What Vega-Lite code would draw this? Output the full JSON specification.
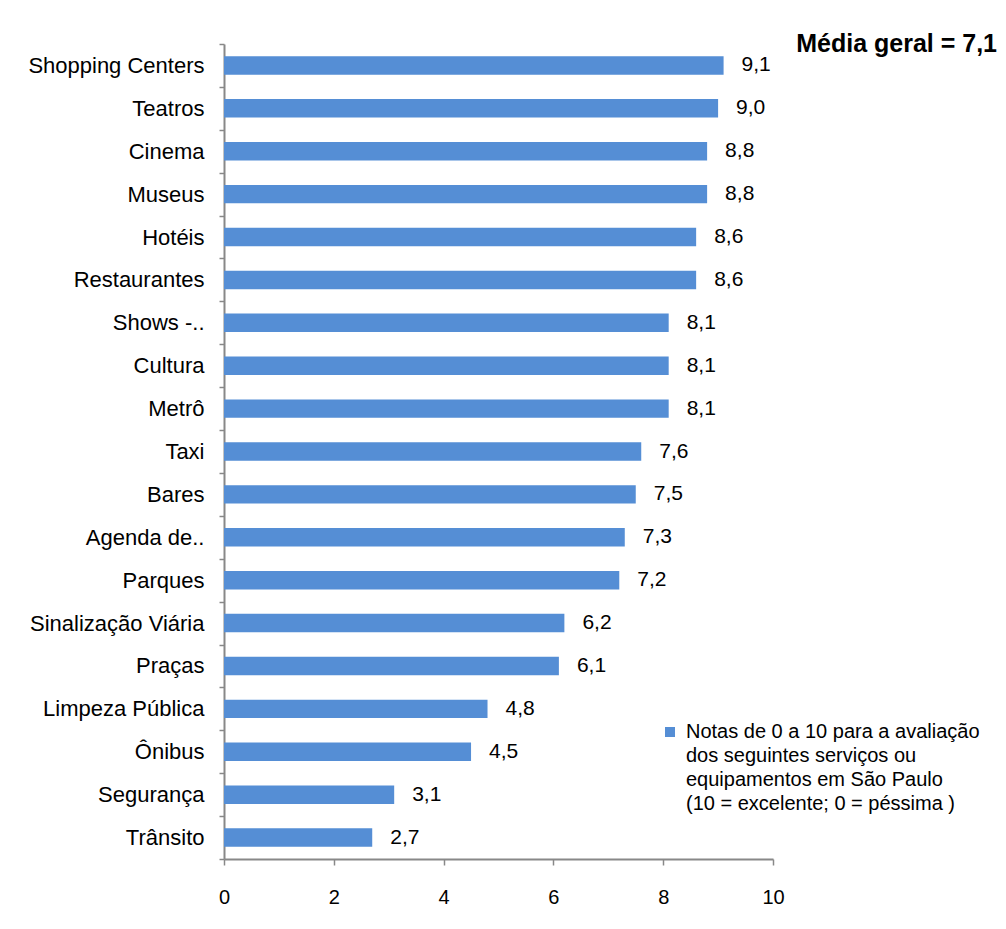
{
  "$schema": "https://vega.github.io/schema/vega-lite/v6.json",
  "autosize": {"type": "none"},
  "width": 549,
  "height": 815,
  "padding": {"left": 224, "top": 44, "right": 233, "bottom": 70},
  "background": "white",
  "config": {
    "view": {"stroke": null},
    "font": "Liberation Sans",
    "style": {"guide-label": {"lineHeight": 24}},
    "locale": {"number": {"decimal": ",", "thousands": ".", "grouping": [3], "currency": ["R$", ""]}}
  },
  "title": {
    "text": "Média geral = 7,1",
    "anchor": "end",
    "frame": "group",
    "fontSize": 25,
    "fontWeight": "bold",
    "font": "Liberation Sans",
    "color": "black",
    "baseline": "alphabetic",
    "offset": 0,
    "dx": 224,
    "dy": 44
  },
  "data": {
    "values": [
      {"item": "Shopping Centers", "nota": 9.1, "serie": "Notas de 0 a 10 para a avaliação|dos seguintes serviços ou|equipamentos em São Paulo|(10  = excelente; 0 = péssima )"},
      {"item": "Teatros", "nota": 9.0, "serie": "Notas de 0 a 10 para a avaliação|dos seguintes serviços ou|equipamentos em São Paulo|(10  = excelente; 0 = péssima )"},
      {"item": "Cinema", "nota": 8.8, "serie": "Notas de 0 a 10 para a avaliação|dos seguintes serviços ou|equipamentos em São Paulo|(10  = excelente; 0 = péssima )"},
      {"item": "Museus", "nota": 8.8, "serie": "Notas de 0 a 10 para a avaliação|dos seguintes serviços ou|equipamentos em São Paulo|(10  = excelente; 0 = péssima )"},
      {"item": "Hotéis", "nota": 8.6, "serie": "Notas de 0 a 10 para a avaliação|dos seguintes serviços ou|equipamentos em São Paulo|(10  = excelente; 0 = péssima )"},
      {"item": "Restaurantes", "nota": 8.6, "serie": "Notas de 0 a 10 para a avaliação|dos seguintes serviços ou|equipamentos em São Paulo|(10  = excelente; 0 = péssima )"},
      {"item": "Shows -..", "nota": 8.1, "serie": "Notas de 0 a 10 para a avaliação|dos seguintes serviços ou|equipamentos em São Paulo|(10  = excelente; 0 = péssima )"},
      {"item": "Cultura", "nota": 8.1, "serie": "Notas de 0 a 10 para a avaliação|dos seguintes serviços ou|equipamentos em São Paulo|(10  = excelente; 0 = péssima )"},
      {"item": "Metrô", "nota": 8.1, "serie": "Notas de 0 a 10 para a avaliação|dos seguintes serviços ou|equipamentos em São Paulo|(10  = excelente; 0 = péssima )"},
      {"item": "Taxi", "nota": 7.6, "serie": "Notas de 0 a 10 para a avaliação|dos seguintes serviços ou|equipamentos em São Paulo|(10  = excelente; 0 = péssima )"},
      {"item": "Bares", "nota": 7.5, "serie": "Notas de 0 a 10 para a avaliação|dos seguintes serviços ou|equipamentos em São Paulo|(10  = excelente; 0 = péssima )"},
      {"item": "Agenda de..", "nota": 7.3, "serie": "Notas de 0 a 10 para a avaliação|dos seguintes serviços ou|equipamentos em São Paulo|(10  = excelente; 0 = péssima )"},
      {"item": "Parques", "nota": 7.2, "serie": "Notas de 0 a 10 para a avaliação|dos seguintes serviços ou|equipamentos em São Paulo|(10  = excelente; 0 = péssima )"},
      {"item": "Sinalização Viária", "nota": 6.2, "serie": "Notas de 0 a 10 para a avaliação|dos seguintes serviços ou|equipamentos em São Paulo|(10  = excelente; 0 = péssima )"},
      {"item": "Praças", "nota": 6.1, "serie": "Notas de 0 a 10 para a avaliação|dos seguintes serviços ou|equipamentos em São Paulo|(10  = excelente; 0 = péssima )"},
      {"item": "Limpeza Pública", "nota": 4.8, "serie": "Notas de 0 a 10 para a avaliação|dos seguintes serviços ou|equipamentos em São Paulo|(10  = excelente; 0 = péssima )"},
      {"item": "Ônibus", "nota": 4.5, "serie": "Notas de 0 a 10 para a avaliação|dos seguintes serviços ou|equipamentos em São Paulo|(10  = excelente; 0 = péssima )"},
      {"item": "Segurança", "nota": 3.1, "serie": "Notas de 0 a 10 para a avaliação|dos seguintes serviços ou|equipamentos em São Paulo|(10  = excelente; 0 = péssima )"},
      {"item": "Trânsito", "nota": 2.7, "serie": "Notas de 0 a 10 para a avaliação|dos seguintes serviços ou|equipamentos em São Paulo|(10  = excelente; 0 = péssima )"}
    ]
  },
  "encoding": {
    "y": {
      "field": "item",
      "type": "nominal",
      "sort": null,
      "scale": {"paddingInner": 0, "paddingOuter": 0},
      "axis": {
        "title": null,
        "tickBand": "extent",
        "labelFontSize": 22,
        "labelColor": "black",
        "labelPadding": 15,
        "labelLimit": 0,
        "tickSize": 5,
        "tickColor": "#888888",
        "tickWidth": 1.5,
        "domainColor": "#888888",
        "domainWidth": 2
      }
    },
    "x": {
      "field": "nota",
      "type": "quantitative",
      "scale": {"domain": [0, 10], "nice": false},
      "axis": {
        "title": null,
        "values": [0, 2, 4, 6, 8, 10],
        "format": "d",
        "grid": false,
        "labelFlush": false,
        "labelFontSize": 20,
        "labelColor": "black",
        "labelPadding": 22,
        "tickSize": 6,
        "tickColor": "#888888",
        "tickWidth": 1.5,
        "domainColor": "#888888",
        "domainWidth": 2
      }
    }
  },
  "layer": [
    {
      "mark": {"type": "bar", "height": {"band": 0.43}},
      "encoding": {
        "color": {
          "field": "serie",
          "type": "nominal",
          "scale": {"range": ["#558ED5"]},
          "legend": {
            "title": null,
            "orient": "none",
            "legendX": 436,
            "legendY": 678,
            "padding": 0,
            "symbolType": "square",
            "symbolSize": 100,
            "symbolStrokeWidth": 0,
            "labelFontSize": 20,
            "labelColor": "black",
            "labelLimit": 0,
            "labelOffset": 6,
            "labelExpr": "split(datum.label, '|')"
          }
        }
      }
    },
    {
      "mark": {"type": "text", "align": "left", "baseline": "middle", "dx": 18, "fontSize": 21, "color": "black"},
      "encoding": {
        "text": {"field": "nota", "type": "quantitative", "format": ".1f"}
      }
    }
  ]
}
